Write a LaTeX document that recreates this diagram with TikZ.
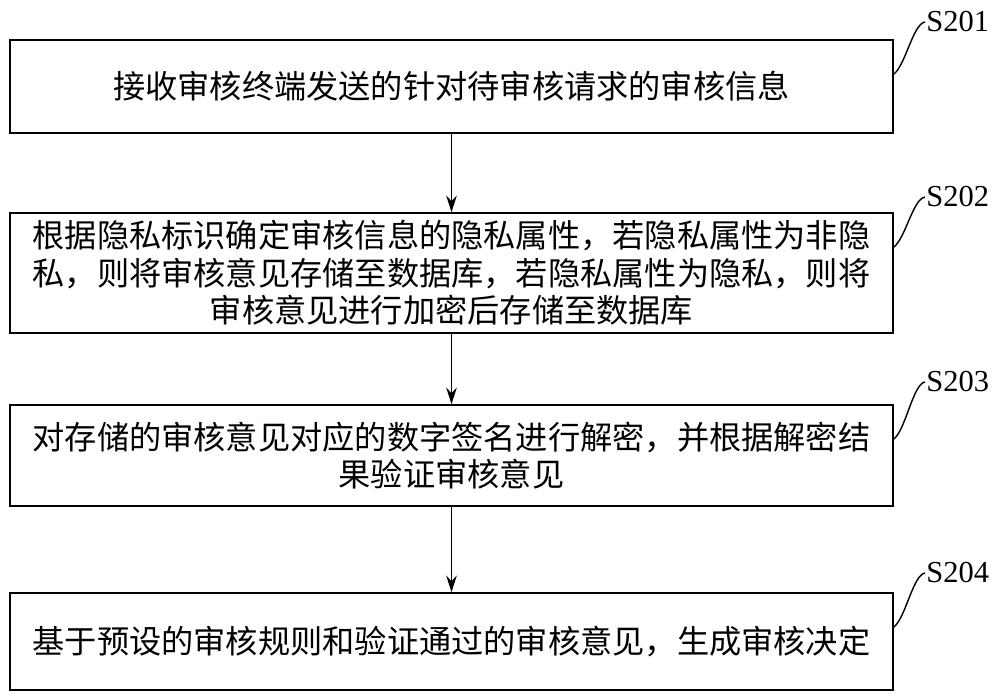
\documentclass[tikz,border=0pt]{standalone}
\usepackage{fontspec}
\setmainfont{Liberation Serif}
\newfontfamily\cjk{Noto Sans CJK SC}
\usetikzlibrary{arrows.meta}
\begin{document}
\begin{tikzpicture}[x=0.03cm,y=-0.03cm,
  stepbox/.style={draw,line width=1.5pt,minimum width=883*0.03cm,align=center,font=\cjk\fontsize{27.5}{32}\selectfont,inner sep=0pt},
  lab/.style={font=\fontsize{26}{28}\selectfont,anchor=west,inner sep=1pt},
  conn/.style={-{Stealth[length=14pt,width=9pt]},line width=1.5pt}]
\useasboundingbox (0,0) rectangle (1000,697);
\node[stepbox,minimum height=93*0.03cm] (b1) at (451.5,86.5) {接收审核终端发送的针对待审核请求的审核信息};
\node[stepbox,minimum height=120*0.03cm] (b2) at (451.5,273) {根据隐私标识确定审核信息的隐私属性，若隐私属性为非隐\\私，则将审核意见存储至数据库，若隐私属性为隐私，则将\\审核意见进行加密后存储至数据库};
\node[stepbox,minimum height=101*0.03cm] (b3) at (451.5,455.5) {对存储的审核意见对应的数字签名进行解密，并根据解密结\\果验证审核意见};
\node[stepbox,minimum height=97*0.03cm] (b4) at (451.5,641.5) {基于预设的审核规则和验证通过的审核意见，生成审核决定};
\draw[conn] (b1) -- (b2);
\draw[conn] (b2) -- (b3);
\draw[conn] (b3) -- (b4);
\foreach \n/\y/\t in {b1/22/S201,b2/197/S202,b3/382/S203,b4/573/S204}{
  \node[lab] (l\n) at (925,\y) {\t};
  \draw[line width=1.2pt] ([yshift=-35*0.03cm]\n.north east) .. controls +(12,-10) and +(-12,2) .. (l\n.west);
}
\end{tikzpicture}
\end{document}
